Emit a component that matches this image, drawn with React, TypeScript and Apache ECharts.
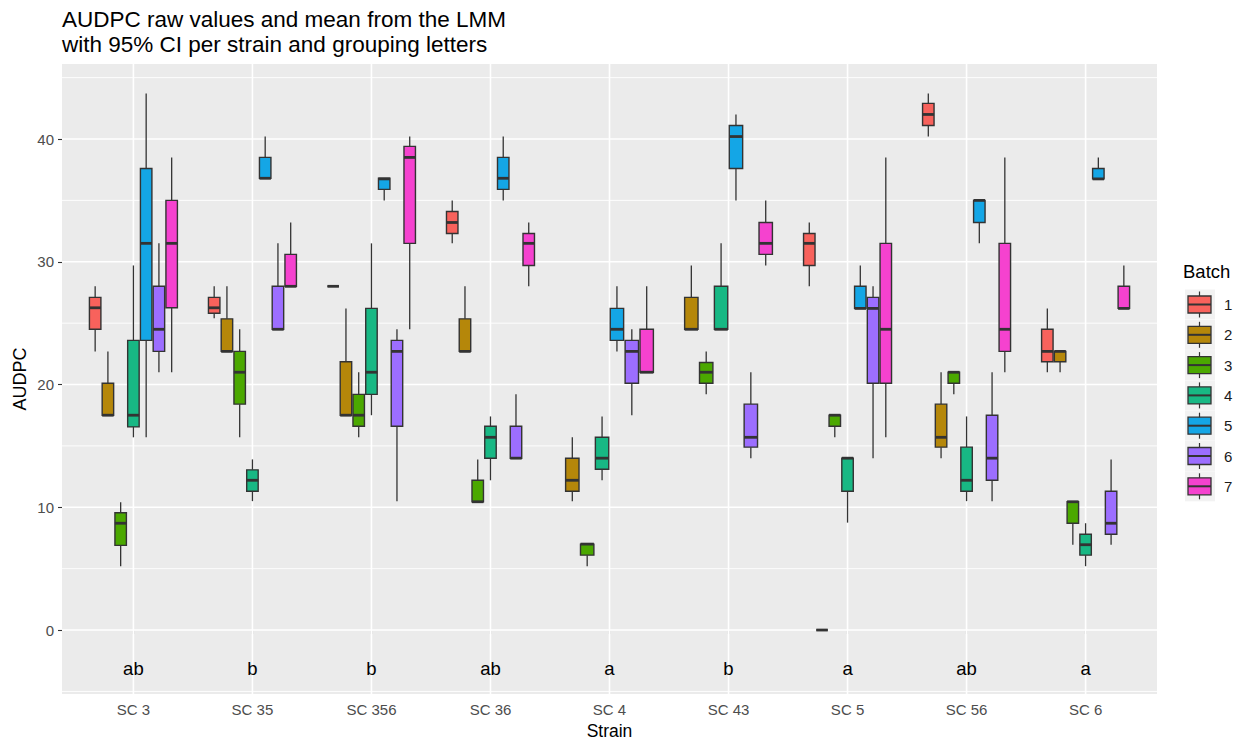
import React, { useEffect, useRef } from "react";
import * as echarts from "echarts";

// Strains on the x axis, batches as dodged boxes within each strain
const STRAINS = ["SC 3", "SC 35", "SC 356", "SC 36", "SC 4", "SC 43", "SC 5", "SC 56", "SC 6"];
const BATCHES = ["1", "2", "3", "4", "5", "6", "7"];
const BATCH_COLORS = ["#F8625C", "#B5870A", "#4BA800", "#18B884", "#14A6E6", "#9C6EFF", "#F542CF"];

// Box statistics per strain: [min, lower hinge, median, upper hinge, max]; null = batch not tested
const BATCH_1 = [
  [22.7, 24.5, 26.25, 27.1, 28.0],
  [25.4, 25.8, 26.25, 27.1, 28.0],
  [28.0, 28.0, 28.0, 28.0, 28.0],
  [31.5, 32.3, 33.2, 34.1, 35.0],
  null,
  null,
  [28.0, 29.7, 31.5, 32.3, 33.2],
  [40.2, 41.1, 42.0, 42.9, 43.7],
  [21.0, 21.85, 22.7, 24.5, 26.2],
];
const BATCH_2 = [
  [17.5, 17.5, 17.5, 20.1, 22.7],
  [22.7, 22.7, 22.7, 25.35, 28.0],
  [17.5, 17.5, 17.5, 21.85, 26.2],
  [22.7, 22.7, 22.7, 25.35, 28.0],
  [10.5, 11.3, 12.2, 14.0, 15.7],
  [24.5, 24.5, 24.5, 27.1, 29.7],
  [0, 0, 0, 0, 0],
  [14.0, 14.9, 15.7, 18.4, 21.0],
  [21.0, 21.85, 22.7, 22.7, 22.7],
];
const BATCH_3 = [
  [5.2, 6.9, 8.7, 9.55, 10.4],
  [15.7, 18.4, 21.0, 22.7, 24.5],
  [15.7, 16.6, 17.5, 19.2, 21.0],
  [10.45, 10.45, 10.45, 12.2, 13.9],
  [5.2, 6.1, 7.0, 7.0, 7.0],
  [19.2, 20.1, 21.0, 21.8, 22.7],
  [15.7, 16.6, 17.5, 17.5, 17.5],
  [19.2, 20.1, 21.0, 21.0, 21.0],
  [6.95, 8.7, 10.45, 10.45, 10.45],
];
const BATCH_4 = [
  [15.7, 16.55, 17.5, 23.6, 29.7],
  [10.5, 11.3, 12.2, 13.05, 13.9],
  [17.5, 19.2, 21.0, 26.2, 31.5],
  [12.2, 14.0, 15.7, 16.6, 17.4],
  [12.2, 13.1, 14.0, 15.7, 17.4],
  [24.5, 24.5, 24.5, 28.0, 31.5],
  [8.75, 11.3, 14.0, 14.0, 14.0],
  [10.5, 11.3, 12.2, 14.9, 17.4],
  [5.2, 6.1, 6.95, 7.8, 8.7],
];
const BATCH_5 = [
  [15.7, 23.6, 31.5, 37.6, 43.7],
  [36.8, 36.8, 36.8, 38.5, 40.2],
  [35.0, 35.9, 36.75, 36.8, 36.8],
  [35.0, 35.9, 36.8, 38.5, 40.2],
  [22.7, 23.6, 24.5, 26.2, 28.0],
  [35.0, 37.6, 40.2, 41.1, 42.0],
  [26.2, 26.2, 26.2, 28.0, 29.7],
  [31.5, 33.2, 35.0, 35.0, 35.0],
  [36.75, 36.75, 36.75, 37.6, 38.5],
];
const BATCH_6 = [
  [21.0, 22.7, 24.5, 28.0, 31.5],
  [24.5, 24.5, 24.5, 28.0, 31.5],
  [10.5, 16.6, 22.7, 23.6, 24.5],
  [14.0, 14.0, 14.0, 16.6, 19.2],
  [17.5, 20.1, 22.7, 23.6, 24.5],
  [14.0, 14.9, 15.7, 18.4, 21.0],
  [14.0, 20.1, 26.2, 27.1, 28.0],
  [10.5, 12.2, 14.0, 17.5, 21.0],
  [6.95, 7.8, 8.7, 11.3, 13.9],
];
const BATCH_7 = [
  [21.0, 26.25, 31.5, 35.0, 38.5],
  [28.0, 28.0, 28.0, 30.6, 33.2],
  [24.5, 31.5, 38.5, 39.4, 40.2],
  [28.0, 29.7, 31.5, 32.3, 33.2],
  [21.0, 21.0, 21.0, 24.5, 28.0],
  [29.7, 30.6, 31.5, 33.2, 35.0],
  [15.7, 20.1, 24.5, 31.5, 38.5],
  [21.0, 22.7, 24.5, 31.5, 38.5],
  [26.2, 26.2, 26.2, 28.0, 29.7],
];
const BATCH_STATS = [BATCH_1, BATCH_2, BATCH_3, BATCH_4, BATCH_5, BATCH_6, BATCH_7];

// Grouping letters from the mixed model, one per strain
const LETTERS = ["ab", "b", "b", "ab", "a", "b", "a", "ab", "a"];
const LETTER_Y = -3.1;

// Axis breaks
const Y_MAJOR = [0, 10, 20, 30, 40];
const Y_MINOR = [-5, 5, 15, 25, 35, 45];
const X_BREAKS = [1, 2, 3, 4, 5, 6, 7, 8, 9];

const FONT = "'Liberation Sans', Arial, Helvetica, sans-serif";
const DODGE_WIDTH = 0.75;
const INK = "#333333";

function buildBoxData(b: number) {
  const rows: number[][] = [];
  STRAINS.forEach((_, i) => {
    const present = BATCH_STATS.map((s, k) => (s[i] ? k : -1)).filter((k) => k >= 0);
    const stats = BATCH_STATS[b][i];
    if (!stats) return;
    rows.push([i, ...stats, present.indexOf(b), present.length]);
  });
  return rows;
}

function boxRenderer(color: string) {
  return (params: any, api: any) => {
    const i = api.value(0);
    const slot = api.value(6);
    const n = api.value(7);
    const step = DODGE_WIDTH / n;
    const xc = i + 1 + (slot - (n - 1) / 2) * step;
    const w = api.size([step, 0])[0] * 0.9;
    const py = (k: number) => api.coord([xc, api.value(k)])[1];
    const cx = api.coord([xc, api.value(3)])[0];
    const yMin = py(1), yQ1 = py(2), yMed = py(3), yQ3 = py(4), yMax = py(5);
    const whisker = { stroke: INK, lineWidth: 1.3 };
    return {
      type: "group",
      children: [
        { type: "line", shape: { x1: cx, y1: yMax, x2: cx, y2: yQ3 }, style: whisker },
        { type: "line", shape: { x1: cx, y1: yQ1, x2: cx, y2: yMin }, style: whisker },
        {
          type: "rect",
          shape: { x: cx - w / 2, y: yQ3, width: w, height: yQ1 - yQ3 },
          style: { fill: color, stroke: INK, lineWidth: 1.4 },
        },
        {
          type: "line",
          shape: { x1: cx - w / 2, y1: yMed, x2: cx + w / 2, y2: yMed },
          style: { stroke: INK, lineWidth: 2.8 },
        },
      ],
    };
  };
}

function legendGraphics() {
  const els: any[] = [];
  els.push({
    type: "text",
    left: 1183,
    top: 262,
    style: { text: "Batch", fontSize: 18.5, fill: "#000", fontFamily: FONT },
  });
  BATCHES.forEach((label, k) => {
    const cy = 304.5 + k * 30.3;
    els.push({ type: "rect", shape: { x: 1185, y: cy - 15, width: 30, height: 30 }, style: { fill: "#F2F2F2" } });
    els.push({ type: "line", shape: { x1: 1199.5, y1: cy - 13, x2: 1199.5, y2: cy + 13 }, style: { stroke: INK, lineWidth: 1.2 } });
    els.push({
      type: "rect",
      shape: { x: 1188, y: cy - 8.5, width: 23, height: 17 },
      style: { fill: BATCH_COLORS[k], stroke: INK, lineWidth: 1.3 },
    });
    els.push({ type: "line", shape: { x1: 1188, y1: cy, x2: 1211, y2: cy }, style: { stroke: INK, lineWidth: 2 } });
    els.push({
      type: "text",
      x: 1224,
      y: cy,
      style: { text: label, fontSize: 15, fill: "#1A1A1A", fontFamily: FONT, verticalAlign: "middle" },
    });
  });
  return els;
}

export default function App() {
  const ref = useRef<HTMLDivElement>(null);

  useEffect(() => {
    if (!ref.current) return;
    const chart = echarts.init(ref.current, undefined, { renderer: "svg" });

    const gridLines = [
      ...Y_MINOR.map((v) => [0, v, 0.9]),
      ...Y_MAJOR.map((v) => [0, v, 1.6]),
      ...X_BREAKS.map((v) => [1, v, 1.6]),
    ];

    const option: any = {
      animation: false,
      backgroundColor: "#FFFFFF",
      title: {
        text: "AUDPC raw values and mean from the LMM\nwith 95% CI per strain and grouping letters",
        left: 62,
        top: 7,
        padding: 0,
        textStyle: { fontSize: 22.5, lineHeight: 25, fontWeight: "normal", color: "#000", fontFamily: FONT },
      },
      grid: {
        left: 62,
        top: 64,
        width: 1095,
        height: 630,
        show: true,
        backgroundColor: "#EBEBEB",
        borderWidth: 0,
        containLabel: false,
        outerBoundsMode: "none",
      },
      xAxis: {
        type: "value",
        min: 0.4,
        max: 9.6,
        splitLine: { show: false },
        axisLine: { show: false },
        axisTick: { show: true, customValues: X_BREAKS, length: 4, lineStyle: { color: INK, width: 1.1 } },
        axisLabel: {
          customValues: X_BREAKS,
          formatter: (v: number) => STRAINS[Math.round(v) - 1] ?? "",
          color: "#4D4D4D",
          fontSize: 15,
          margin: 8,
          fontFamily: FONT,
        },
        name: "Strain",
        nameLocation: "middle",
        nameGap: 28,
        nameMoveOverlap: false,
        nameTextStyle: { fontSize: 17.5, color: "#000", fontFamily: FONT },
      },
      yAxis: {
        type: "value",
        min: -5.21,
        max: 46.11,
        splitLine: { show: false },
        axisLine: { show: false },
        axisTick: { show: true, customValues: Y_MAJOR, length: 4, lineStyle: { color: INK, width: 1.1 } },
        axisLabel: {
          customValues: Y_MAJOR,
          color: "#4D4D4D",
          fontSize: 15,
          margin: 8,
          fontFamily: FONT,
        },
        name: "AUDPC",
        nameLocation: "middle",
        nameGap: 33,
        nameMoveOverlap: false,
        nameRotate: 90,
        nameTextStyle: { fontSize: 18, color: "#000", fontFamily: FONT },
      },
      graphic: legendGraphics(),
      series: [
        {
          type: "custom",
          name: "panel-grid",
          silent: true,
          z: 1,
          data: gridLines,
          encode: { x: -1, y: -1 },
          renderItem: (params: any, api: any) => {
            const cs = params.coordSys;
            const vertical = api.value(0) === 1;
            const v = api.value(1);
            const lw = api.value(2);
            if (vertical) {
              const x = api.coord([v, 0])[0];
              return {
                type: "line",
                shape: { x1: x, y1: cs.y, x2: x, y2: cs.y + cs.height },
                style: { stroke: "#FFFFFF", lineWidth: lw },
              };
            }
            const y = api.coord([1, v])[1];
            return {
              type: "line",
              shape: { x1: cs.x, y1: y, x2: cs.x + cs.width, y2: y },
              style: { stroke: "#FFFFFF", lineWidth: lw },
            };
          },
        },
        ...BATCHES.map((name, b) => ({
          type: "custom",
          name,
          z: 3,
          data: buildBoxData(b),
          encode: { x: 0, y: [1, 2, 3, 4, 5] },
          renderItem: boxRenderer(BATCH_COLORS[b]),
        })),
        {
          type: "custom",
          name: "letters",
          silent: true,
          z: 4,
          data: LETTERS.map((_, i) => [i + 1, LETTER_Y]),
          encode: { x: 0, y: 1 },
          renderItem: (params: any, api: any) => {
            const [x, y] = api.coord([api.value(0), api.value(1)]);
            return {
              type: "text",
              style: {
                text: LETTERS[params.dataIndex],
                x,
                y,
                align: "center",
                verticalAlign: "middle",
                fontSize: 18.5,
                fill: "#000",
                fontFamily: FONT,
              },
            };
          },
        },
      ],
    };

    chart.setOption(option);
    return () => chart.dispose();
  }, []);

  return (
    <div
      ref={ref}
      style={{ position: "fixed", left: 0, top: 0, width: 1242, height: 740, background: "#FFFFFF" }}
    />
  );
}
